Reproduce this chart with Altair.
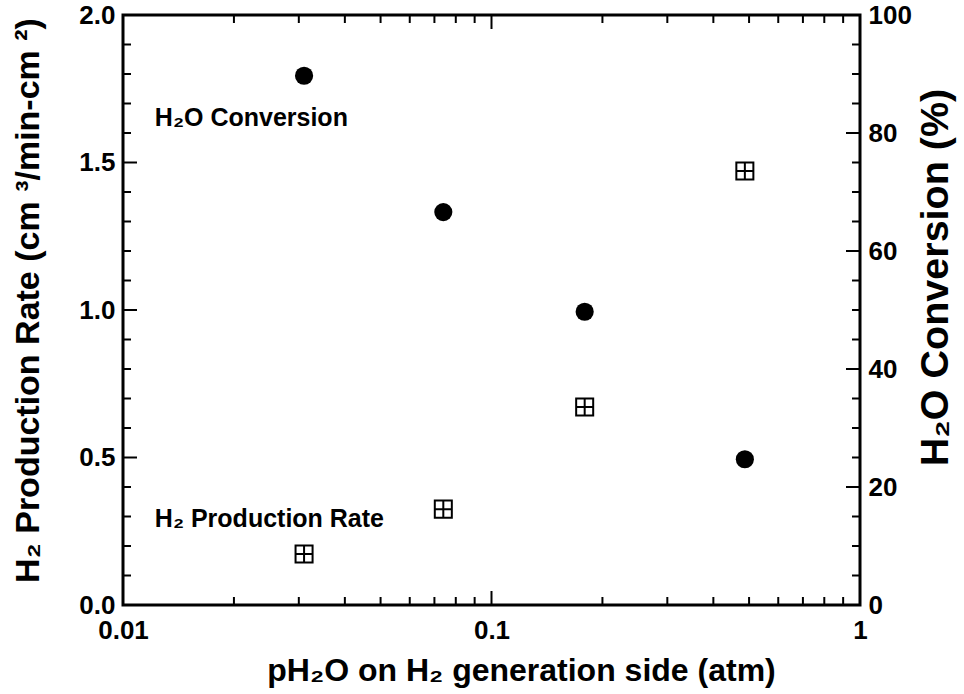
import altair as alt
import pandas as pd

# ---- data ----
p_h2o = [0.031, 0.074, 0.179, 0.487]           # pH2O (atm)
h2_rate = [0.173, 0.325, 0.671, 1.471]         # H2 production rate (cm3/min-cm2)
h2o_conv = [89.7, 66.6, 49.7, 24.7]            # H2O conversion (%)

x_major = [0.01, 0.1, 1.0]
x_minor = [0.02, 0.03, 0.04, 0.05, 0.06, 0.07, 0.08, 0.09,
           0.2, 0.3, 0.4, 0.5, 0.6, 0.7, 0.8, 0.9]
yl_major = [0.0, 0.5, 1.0, 1.5, 2.0]
yl_minor = [0.1, 0.2, 0.3, 0.4, 0.6, 0.7, 0.8, 0.9,
            1.1, 1.2, 1.3, 1.4, 1.6, 1.7, 1.8, 1.9]
yr_major = [0, 20, 40, 60, 80, 100]
yr_minor = [5, 10, 15, 25, 30, 35, 45, 50, 55, 65, 70, 75, 85, 90, 95]

label_text = ["H₂O Conversion", "H₂ Production Rate"]
label_x = [0.0122, 0.0122]
label_y = [1.65, 0.29]

# ---- layout ----
W, H = 737, 590
FONT = "Liberation Sans"
MAJ, MIN = 14, 8

xscale = alt.Scale(type="log", domain=[0.01, 1], nice=False)
ylscale = alt.Scale(domain=[0, 2], nice=False, zero=False)
yrscale = alt.Scale(domain=[0, 100], nice=False, zero=False)

pts = pd.DataFrame({"p": p_h2o, "rate": h2_rate, "conv": h2o_conv})
labels = pd.DataFrame({"t": label_text, "x": label_x, "y": label_y})

x_axis = alt.Axis(
    orient="bottom", values=x_major, ticks=False, domain=False, grid=False,
    labelExpr="format(datum.value, '~g')",
    labelFont=FONT, labelFontSize=26, labelFontWeight="bold", labelColor="black",
    labelPadding=12, labelFlush=False, labelOverlap=False,
    title="pH₂O on H₂ generation side (atm)", titleFont=FONT, titleFontSize=32,
    titleFontWeight="bold", titleColor="black",
    titleX=398, titleY=65, titleAlign="center", titleBaseline="middle",
)
yl_axis = alt.Axis(
    orient="left", values=yl_major, format=".1f", ticks=False, domain=False, grid=False,
    labelFont=FONT, labelFontSize=26, labelFontWeight="bold", labelColor="black",
    labelPadding=8, labelOverlap=False, labelFlush=False,
    title="H₂ Production Rate (cm ³/min-cm ²)", titleFont=FONT, titleFontSize=34,
    titleFontWeight="bold", titleColor="black", titleAngle=270,
    titleX=-95, titleY=285, titleAlign="center", titleBaseline="middle",
)
yr_axis = alt.Axis(
    orient="right", values=yr_major, format="d", ticks=False, domain=False, grid=False,
    labelFont=FONT, labelFontSize=26, labelFontWeight="bold", labelColor="black",
    labelPadding=8, labelOverlap=False, labelFlush=False,
    title="H₂O Conversion (%)", titleFont=FONT, titleFontSize=39.5,
    titleFontWeight="bold", titleColor="black", titleAngle=270,
    titleX=75, titleY=262, titleAlign="center", titleBaseline="middle",
)

sq_path = "M-1,-1L1,-1L1,1L-1,1Z M0,-1L0,1 M-1,0L1,0"

squares = alt.Chart(pts).mark_point(
    shape=sq_path, size=290, filled=False, stroke="black", strokeWidth=2, opacity=1
).encode(
    x=alt.X("p:Q", scale=xscale, axis=x_axis),
    y=alt.Y("rate:Q", scale=ylscale, axis=yl_axis),
)
circles = alt.Chart(pts).mark_point(
    shape="circle", size=330, filled=True, color="black", opacity=1
).encode(
    x=alt.X("p:Q", scale=xscale),
    y=alt.Y("conv:Q", scale=yrscale, axis=yr_axis),
)
texts = alt.Chart(labels).mark_text(
    align="left", baseline="middle", font=FONT, fontSize=25, fontWeight="bold", color="black"
).encode(
    x=alt.X("x:Q", scale=xscale),
    y=alt.Y("y:Q", scale=ylscale, axis=None),
    text="t:N",
)


def xticks(vals, L):
    d = pd.DataFrame({"v": vals})
    base = alt.Chart(d).mark_rule(color="black", strokeWidth=2)
    bot = base.encode(x=alt.X("v:Q", scale=xscale),
                      y=alt.value(H), y2=alt.value(H - L))
    top = base.encode(x=alt.X("v:Q", scale=xscale),
                      y=alt.value(0), y2=alt.value(L))
    return [bot, top]


def yticks(vals, L, scale, right):
    d = pd.DataFrame({"v": vals})
    base = alt.Chart(d).mark_rule(color="black", strokeWidth=2)
    if right:
        return base.encode(y=alt.Y("v:Q", scale=scale, axis=None),
                           x=alt.value(W), x2=alt.value(W - L))
    return base.encode(y=alt.Y("v:Q", scale=scale, axis=None),
                       x=alt.value(0), x2=alt.value(L))


layers = [squares, circles, texts]
layers += xticks(x_major, MAJ) + xticks(x_minor, MIN)
layers += [yticks(yl_major, MAJ, ylscale, False), yticks(yl_minor, MIN, ylscale, False)]
layers += [yticks(yr_major, MAJ, yrscale, True), yticks(yr_minor, MIN, yrscale, True)]

chart = alt.layer(*layers).resolve_scale(y="independent").properties(
    width=W, height=H,
    autosize=alt.AutoSizeParams(type="none"),
    padding={"left": 123, "top": 15, "right": 104, "bottom": 89},
    background="white",
).configure_view(stroke="black", strokeWidth=3)

chart.save("out.html", embed_options={"renderer": "svg", "actions": False})
